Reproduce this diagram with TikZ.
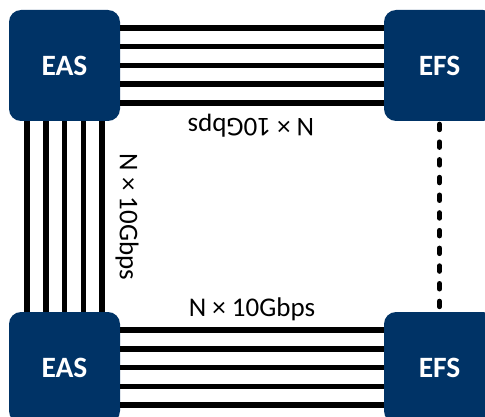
\documentclass[tikz,border=0pt]{standalone}
\usepackage{fontspec}
\setmainfont[Numbers=Lining]{Carlito}
\usepackage{xcolor}
\definecolor{switchblue}{HTML}{003366}
\tikzset{
  box/.style    = { fill=switchblue, rounded corners=12pt, minimum size=111pt,
                    inner sep=0pt, text=white, font=\fontsize{29.5}{31}\selectfont\bfseries },
  link/.style   = { line width=5.5pt, black },
  backup/.style = { line width=5pt, black, line cap=round, dash pattern=on 5.5pt off 12.2pt, dash phase=-3pt },
  rate/.style   = { inner sep=0pt, font=\fontsize{27}{29}\selectfont }
}
\begin{document}
\begin{tikzpicture}[x=1pt,y=-1pt]
  \useasboundingbox (0,0) rectangle (485,417);
  % Draw all switches
  \node[box] (eas1) at (64.5,65.5)  {EAS};
  \node[box] (efs1) at (439.5,65.5) {EFS};
  \node[box] (eas2) at (64.5,367.5) {EAS};
  \node[box] (efs2) at (439.5,367.5) {EFS};
  % Draw all links
  \foreach \d in {-37.5,-18.75,0,18.75,37.5} {
    \draw[link] ([yshift=\d pt]eas1.east) -- ([yshift=\d pt]efs1.west);
    \draw[link] ([yshift=\d pt]eas2.east) -- ([yshift=\d pt]efs2.west);
    \draw[link] ([xshift=\d pt]eas1.south) -- ([xshift=\d pt]eas2.north);
  }
  \draw[backup] (efs1.south) -- (efs2.north);
  % Draw labels
  \node[rate, rotate=180] (ratetop)  at (251,125.5) {N × 10Gbps};
  \node[rate, rotate=-90] (rateleft) at (127,217)   {N × 10Gbps};
  \node[rate]             (ratebot)  at (252,309.5) {N × 10Gbps};
\end{tikzpicture}
\end{document}
